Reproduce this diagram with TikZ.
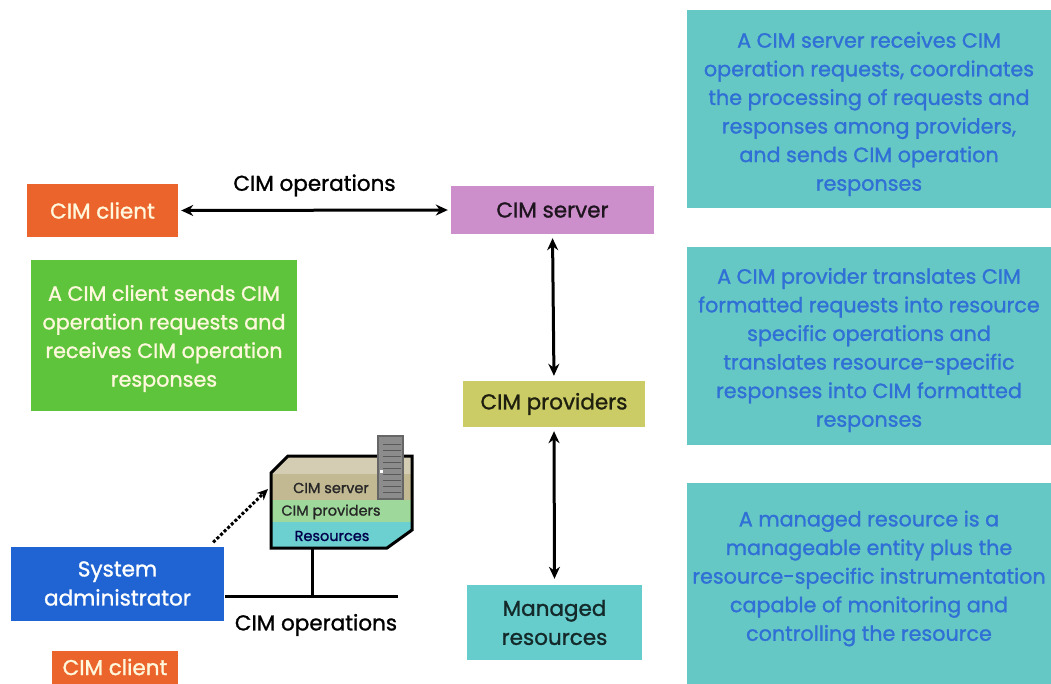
\documentclass[tikz,border=0pt]{standalone}
\usepackage{fontspec}
\setmainfont{Poppins}[FakeBold=1.2]
\usetikzlibrary{arrows.meta}

\definecolor{clientorange}{HTML}{EB642C}
\definecolor{serverlilac}{HTML}{CC8FCC}
\definecolor{provolive}{HTML}{CCCC66}
\definecolor{resteal}{HTML}{66CCCC}
\definecolor{panelteal}{HTML}{66C8C4}
\definecolor{paneltext}{HTML}{2F6FD6}
\definecolor{notegreen}{HTML}{5EC43C}
\definecolor{admblue}{HTML}{1F64D2}
\definecolor{creamtext}{HTML}{FFF8DC}
\definecolor{bandtan}{HTML}{C2B892}
\definecolor{bandgreen}{HTML}{9ED89A}
\definecolor{bandteal}{HTML}{6CD0D0}

\tikzset{
  box/.style={rectangle, inner sep=0pt, align=center},
  bigtext/.style={font=\fontsize{21.5}{29}\selectfont},
  notetext/.style={font=\fontsize{20.7}{28.6}\selectfont},
  panelbox/.style={box, fill=panelteal, minimum width=364pt},
  paneltxt/.style={align=center, inner sep=0pt, text=paneltext, notetext},
  biarrow/.style={line width=3pt, {Stealth[length=12pt,width=11pt]}-{Stealth[length=12pt,width=11pt]}},
  minilabel/.style={font=\fontsize{14.5}{16}\selectfont, text=black!85, inner sep=0pt}
}

\begin{document}
\begin{tikzpicture}[x=1pt,y=-1pt]
\useasboundingbox (0,0) rectangle (1051,684);
\fill[white] (0,0) rectangle (1051,684);

% main chain of boxes
\node[box, fill=clientorange, text=creamtext, bigtext, minimum width=151pt, minimum height=53pt] (client) at (102.5,210.5) {CIM client};
\node[box, fill=serverlilac, text=black!85!serverlilac, bigtext, minimum width=203pt, minimum height=48pt] (server) at (552.5,210) {CIM server};
\node[box, fill=provolive, text=black!85!provolive, bigtext, minimum width=182pt, minimum height=46pt] (providers) at (554,404) {CIM providers};
\node[box, fill=resteal, text=black!80!resteal, bigtext, minimum width=175pt, minimum height=75pt] (managed) at (554.5,622.5) {Managed\\resources};

% description of the client
\node[box, fill=notegreen, minimum width=266pt, minimum height=151pt] (clientnote) at (164,335.5) {};
\node[box, text=creamtext, notetext] (clienttext) at ([yshift=-3pt]clientnote.center)
  {A CIM client sends CIM\\operation requests and\\receives CIM operation\\responses};

% explanatory panels
\node[panelbox, minimum height=198pt] (servernote) at (869,109) {};
\node[paneltxt] (servertext) at ([yshift=-5pt]servernote.center)
  {A CIM server receives CIM\\operation requests, coordinates\\the processing of requests and\\responses among providers,\\and sends CIM operation\\responses};
\node[panelbox, minimum height=198pt] (provnote) at (869,346) {};
\node[paneltxt] (provtext) at ([yshift=-4pt]provnote.center)
  {A CIM provider translates CIM\\formatted requests into resource\\specific operations and\\translates resource-specific\\responses into CIM formatted\\responses};
\node[panelbox, minimum height=201pt] (resnote) at (869,583.5) {};
\node[paneltxt] (restext) at ([yshift=5pt]resnote.center)
  {A managed resource is a\\manageable entity plus the\\resource-specific instrumentation\\capable of monitoring and\\controlling the resource};

% connectors
\draw[biarrow, shorten <=3pt, shorten >=3pt] (client.east) -- (server.west)
  node[midway, above=9pt, bigtext, text=black] (opslabel) {CIM operations};
\draw[biarrow, shorten <=4pt, shorten >=5pt] (server.south) -- (providers.north);
\draw[biarrow, shorten <=4pt, shorten >=6pt] (providers.south) -- (managed.north);

% administrator side
\node[box, fill=admblue, text=white, bigtext, minimum width=213pt, minimum height=74pt] (admin) at (117.5,583.5) {System\\administrator};
\node[box, fill=clientorange, minimum width=126pt, minimum height=40pt] (client2) at (115,671) {};
\node[text=creamtext, bigtext, inner sep=0pt] (client2text) at (115,667) {CIM client};

% managed system drawn as a chamfered box
\coordinate (boxbottom) at (312,548);
\coordinate (boxentry) at (268,489);
\begin{scope}
  \clip (288,456) -- (412,456) -- (412,530) -- (387,548) -- (271,548) -- (271,473) -- cycle;
  \fill[bandtan!70!white] (260,450) rectangle (420,474);
  \fill[bandtan] (260,474) rectangle (420,500);
  \fill[bandgreen] (260,500) rectangle (420,522);
  \fill[bandteal] (260,522) rectangle (420,550);
\end{scope}
\draw[line width=3pt, line join=miter] (288,456) -- (412,456) -- (412,530) -- (387,548) -- (271,548) -- (271,473) -- cycle;

% server tower
\fill[black!60] (377,435) rectangle (404,500);
\fill[black!45] (379,437) rectangle (402,498);
\foreach \yy in {444,450,456,462,468,474,480,486,492}
  \draw[black!65, line width=0.9pt] (383,\yy) -- (401,\yy);
\fill[white] (380,470) rectangle (383,473);

\node[minilabel] (minisrv) at (331,488) {CIM server};
\node[minilabel] (miniprov) at (331,512) {CIM providers};
\node[minilabel, text=black!70!blue] (minires) at (332,536) {Resources};

% network bus
\coordinate (busleft) at (225,596);
\coordinate (busright) at (398,596);
\coordinate (busjoin) at (312,596);
\draw[line width=3pt] (busleft) -- (busright);
\draw[line width=3pt] (boxbottom) -- (busjoin);
\node[bigtext, anchor=center] (opslabel2) at (316,625) {CIM operations};

% dotted management link
\draw[line width=3pt, dotted, -{Stealth[length=11pt,width=10pt]}] ([xshift=-11pt,yshift=4pt]admin.north east) -- (boxentry);

\end{tikzpicture}
\end{document}
